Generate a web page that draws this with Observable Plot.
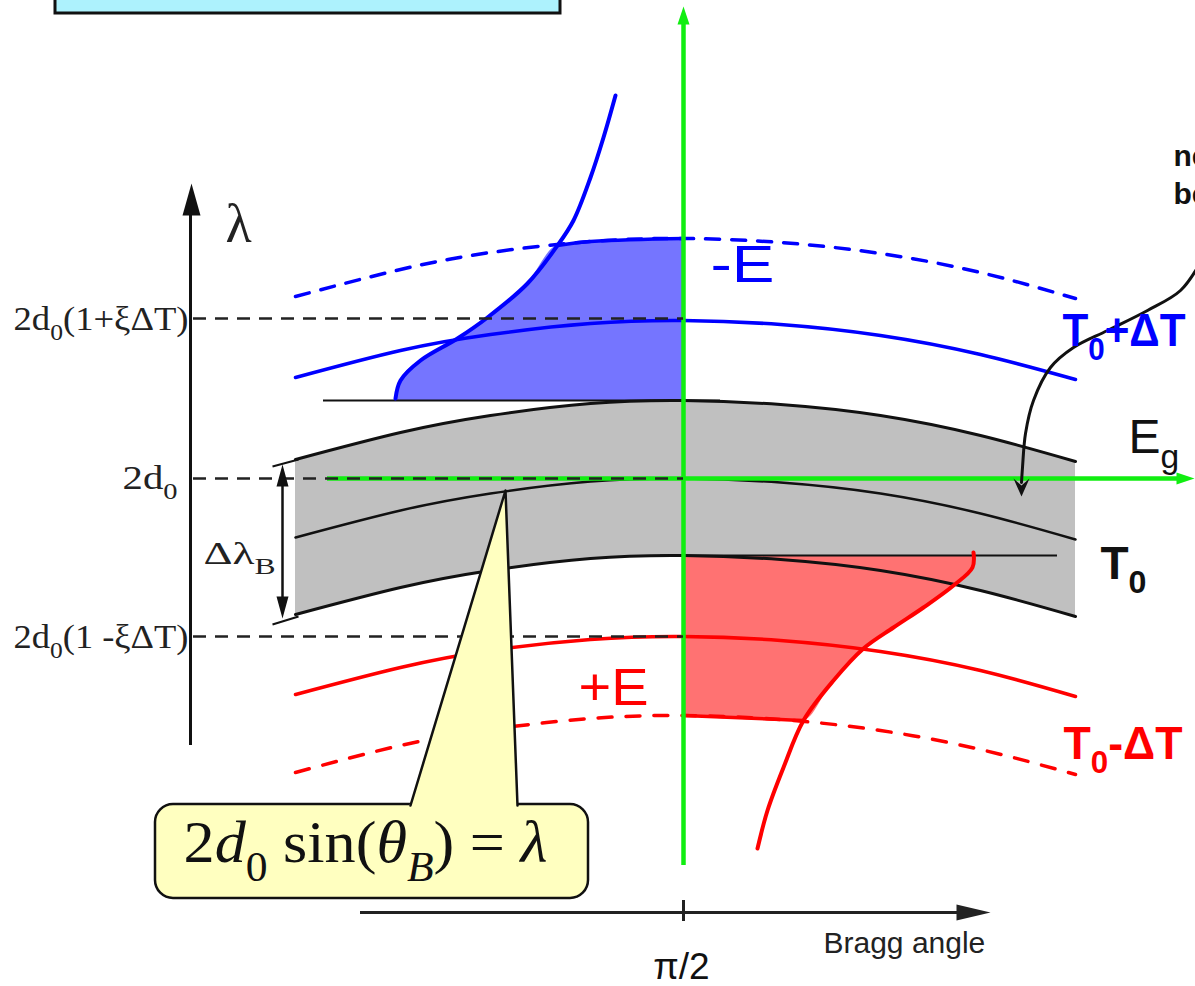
<!DOCTYPE html>
<html><head><meta charset="utf-8">
<script src="https://cdn.jsdelivr.net/npm/d3@7"></script>
<script src="https://cdn.jsdelivr.net/npm/@observablehq/plot@0.6"></script>
<style>html,body{margin:0;padding:0;background:#fff;overflow:hidden}</style>
</head><body><div id="chart"></div>
<script>
// Diagram units: x = Bragg angle (π/2 at 683), y = wavelength position (0 at top)
const arcX       = [295, 400, 490, 590, 683, 780, 880, 980, 1075];
const grayTop    = [459, 432, 415, 403, 400, 404, 415, 435, 461];
const grayMid    = [537, 510, 493, 481, 478, 482, 493, 513, 539];
const grayBot    = [614, 587, 570, 558, 555, 559, 570, 590, 616];
const blueSolid  = [377, 350, 334, 323, 320, 324, 335, 354, 379];
const blueDashed = [296, 269, 252, 241, 238, 242, 253, 272, 298];
const redSolid   = [694, 667, 650, 639, 636, 640, 651, 670, 696];
const redDashed  = [772, 745, 729, 718, 715, 719, 730, 749, 774];

const blueTailX = [615, 603, 590, 573, 557, 527, 487, 457, 420, 400, 395];
const blueTailY = [ 95, 137, 177, 220, 245, 283, 317, 338, 360, 380, 398];
const redTailX  = [973, 972, 953, 923, 893, 863, 833, 803, 783, 767, 757];
const redTailY  = [552, 567, 585, 607, 627, 648, 680, 720, 767, 810, 848];

const pointerX = [1200, 1180, 1147, 1107, 1073, 1050, 1033, 1025, 1022, 1021];
const pointerY = [ 262,  290,  310,  330,  347,  367,  400,  433,  467,  482];

const levelY = [318, 478, 636];
const levelLabels = ["2d_{0}(1+ξΔT)", "2d_{0}", "2d_{0}(1 -ξΔT)"];
const upperFlat = 400, lowerFlat = 555;
const braggTick = 683;
const tickLabel = "π/2";
const formula = "2*d*_{0} sin(*θ*_{*B*}) = *λ*";

// ---------- build tables ----------
const rows = (ys) => arcX.map((x, i) => ({x, y: ys[i]}));
const band = arcX.map((x, i) => ({x, top: grayTop[i], bot: grayBot[i]}));
const blueTail = blueTailX.map((x, i) => ({x, y: blueTailY[i]}));
const redTail = redTailX.map((x, i) => ({x, y: redTailY[i]}));
const blueFillTop = [
  ...blueTail.filter(d => d.x <= 557).sort((a, b) => a.x - b.x),
  ...rows(blueDashed).filter(d => d.x > 557 && d.x <= braggTick)
];
const redFillBot = [
  ...rows(redDashed).filter(d => d.x >= braggTick && d.x < 803),
  ...redTail.filter(d => d.y <= 720).sort((a, b) => a.x - b.x)
];
const pointer = pointerX.map((x, i) => ({x, y: pointerY[i]}));

// arrowhead symbols
function head(dir, len, hw, notch = 0) {
  const rot = {up: 0, right: 90, down: 180, left: 270}[dir] * Math.PI / 180;
  const c = Math.cos(rot), s = Math.sin(rot);
  return {draw(ctx) {
    [[0, 0], [hw, len], [0, len - notch], [-hw, len]].forEach(([px, py], i) => {
      const X = px * c - py * s, Y = px * s + py * c;
      i ? ctx.lineTo(X, Y) : ctx.moveTo(X, Y);
    });
    ctx.closePath();
  }};
}
const headMark = (x, y, dir, len, hw, color, notch = 0) =>
  Plot.dot([{x, y}], {x: "x", y: "y", symbol: head(dir, len, hw, notch), fill: color, stroke: "none"});

const serif = "Liberation Serif, Times New Roman, serif";
const sans = "Liberation Sans, Arial, sans-serif";
const fitWidth = new Map();
const lbl = (text, x, y, o, fit) => {
  if (fit) fitWidth.set(text, fit);
  return Plot.text([{text, x, y}], {x: "x", y: "y", text: "text", lineAnchor: "bottom", ...o});
};

const BLUE = "#0000ff", RED = "#ff0000", GREEN = "#11ee11", INK = "#111";
const levelFit = [175, 55, 175];

const svg = Plot.plot({
  width: 1195, height: 986, margin: 0,
  x: {domain: [0, 1195], axis: null},
  y: {domain: [0, 986], reverse: true, axis: null},
  style: {background: "white"},
  marks: [
    // top-left box (cut off)
    Plot.rect([{x1: 55, x2: 560, y1: -20, y2: 13}], {x1: "x1", x2: "x2", y1: "y1", y2: "y2", fill: "#adf2fd", stroke: "#111", strokeWidth: 3}),
    // gray band
    Plot.areaY(band, {x: "x", y1: "bot", y2: "top", curve: "natural", fill: "#c0c0c0"}),
    // fills
    Plot.areaY(blueFillTop, {x: "x", y1: upperFlat, y2: "y", curve: "monotone-x", fill: "#7575ff"}),
    Plot.areaY(redFillBot, {x: "x", y1: lowerFlat, y2: "y", curve: "monotone-x", fill: "#ff7272"}),
    // flat lines
    Plot.ruleY([upperFlat], {x1: 323, x2: 720, stroke: INK, strokeWidth: 2}),
    Plot.ruleY([lowerFlat], {x1: 660, x2: 1057, stroke: INK, strokeWidth: 2}),
    // band outlines
    Plot.line(rows(grayTop), {x: "x", y: "y", curve: "natural", stroke: INK, strokeWidth: 3}),
    Plot.line(rows(grayMid), {x: "x", y: "y", curve: "natural", stroke: INK, strokeWidth: 2.5}),
    Plot.line(rows(grayBot), {x: "x", y: "y", curve: "natural", stroke: INK, strokeWidth: 3}),
    // blue curves
    Plot.line(rows(blueDashed), {x: "x", y: "y", curve: "natural", stroke: BLUE, strokeWidth: 3.5, strokeDasharray: "14,12"}),
    Plot.line(blueFillTop.filter(d => d.x >= 557), {x: "x", y: "y", curve: "monotone-x", stroke: BLUE, strokeWidth: 3.5}),
    Plot.line(rows(blueSolid), {x: "x", y: "y", curve: "natural", stroke: BLUE, strokeWidth: 3.5}),
    Plot.line(blueTail, {x: "x", y: "y", curve: "catmull-rom", stroke: BLUE, strokeWidth: 4}),
    // red curves
    Plot.line(rows(redDashed), {x: "x", y: "y", curve: "natural", stroke: RED, strokeWidth: 3.5, strokeDasharray: "14,14"}),
    Plot.line(redFillBot.filter(d => d.x <= 803), {x: "x", y: "y", curve: "monotone-x", stroke: RED, strokeWidth: 3.5}),
    Plot.line(rows(redSolid), {x: "x", y: "y", curve: "natural", stroke: RED, strokeWidth: 3.5}),
    Plot.line(redTail, {x: "x", y: "y", curve: "catmull-rom", stroke: RED, strokeWidth: 4}),
    // green axes
    Plot.ruleX([braggTick], {y1: 18, y2: 865, stroke: GREEN, strokeWidth: 4.5}),
    headMark(braggTick, 6, "up", 18, 6, GREEN),
    Plot.ruleY([levelY[1]], {x1: 327, x2: 1180, stroke: GREEN, strokeWidth: 4.5}),
    headMark(1194, levelY[1], "right", 18, 6, GREEN),
    // dashed reference levels
    Plot.ruleY(levelY, {x1: 193, x2: braggTick, stroke: "#222", strokeWidth: 2.5, strokeDasharray: "13,9"}),
    // lambda axis
    Plot.ruleX([190], {y1: 745, y2: 205, stroke: INK, strokeWidth: 3}),
    headMark(191, 183, "up", 32, 9, INK),
    // delta-lambda arrow
    Plot.ruleX([282], {y1: 475, y2: 605, stroke: INK, strokeWidth: 2.5}),
    headMark(282, 464, "up", 22, 6, INK),
    headMark(282, 618, "down", 22, 6, INK),
    Plot.link([{x1: 272, y1: 466, x2: 298, y2: 459}, {x1: 272, y1: 624, x2: 298, y2: 616}],
      {x1: "x1", y1: "y1", x2: "x2", y2: "y2", stroke: INK, strokeWidth: 2}),
    // Bragg angle axis
    Plot.ruleY([912], {x1: 360, x2: 965, stroke: "#222", strokeWidth: 3}),
    Plot.ruleX([braggTick], {y1: 900, y2: 921, stroke: "#222", strokeWidth: 3}),
    headMark(990, 912, "right", 34, 8, "#222"),
    // callout
    Plot.rect([{x1: 155, x2: 588, y1: 804, y2: 898}], {x1: "x1", x2: "x2", y1: "y1", y2: "y2", rx: 18, fill: "#ffffc0", stroke: INK, strokeWidth: 2.5}),
    Plot.areaX([{y: 490, a: 505, b: 505}, {y: 807, a: 409, b: 518}], {y: "y", x1: "a", x2: "b", fill: "#ffffc0"}),
    Plot.line([{x: 410, y: 805}, {x: 505, y: 490}, {x: 517, y: 805}], {x: "x", y: "y", stroke: INK, strokeWidth: 2.5}),
    // curved pointer arrow
    Plot.line(pointer, {x: "x", y: "y", curve: "catmull-rom", stroke: INK, strokeWidth: 3}),
    headMark(1021, 496, "down", 18, 8, INK, 7),
    // texts
    ...levelY.map((y, i) => lbl(levelLabels[i], i === 1 ? 177 : 188, y + (i === 1 ? 10 : 11),
      {textAnchor: "end", fontFamily: serif, fontSize: 34, fill: "#222"}, levelFit[i])),
    lbl("Δλ_{B}", 203, 563, {textAnchor: "start", fontFamily: serif, fontSize: 32, fill: "#222"}, 72),
    lbl("λ", 238, 241, {textAnchor: "middle", fontFamily: serif, fontSize: 54, fill: "#222"}),
    lbl(formula, 365, 861, {textAnchor: "middle", fontFamily: serif, fontSize: 60, fill: "#111"}, 364),
    lbl(tickLabel, 681, 978, {textAnchor: "middle", fontFamily: sans, fontSize: 37, fill: "#111"}),
    lbl("Bragg angle", 823, 952, {textAnchor: "start", fontFamily: sans, fontSize: 30, fill: "#222"}),
    lbl("-E", 742, 281, {textAnchor: "middle", fontFamily: sans, fontSize: 52, fill: BLUE}, 64),
    lbl("+E", 613, 704, {textAnchor: "middle", fontFamily: sans, fontSize: 52, fill: RED}, 70),
    lbl("T_{0}+ΔT", 1062, 345, {textAnchor: "start", fontFamily: sans, fontSize: 46, fontWeight: "bold", fill: BLUE}, 123),
    lbl("T_{0}-ΔT", 1063, 758, {textAnchor: "start", fontFamily: sans, fontSize: 46, fontWeight: "bold", fill: RED}, 119),
    lbl("T_{0}", 1100, 578, {textAnchor: "start", fontFamily: sans, fontSize: 46, fontWeight: "bold", fill: INK}),
    lbl("E_{g}", 1128, 452, {textAnchor: "start", fontFamily: sans, fontSize: 48, fill: INK}),
    lbl("ne", 1173, 165, {textAnchor: "start", fontFamily: sans, fontSize: 30, fontWeight: "bold", fill: INK}),
    lbl("be", 1173, 203, {textAnchor: "start", fontFamily: sans, fontSize: 30, fontWeight: "bold", fill: INK})
  ]
});
document.getElementById("chart").appendChild(svg);

// ---------- rich text: *italic*, _{sub}; optional fitted width ----------
function parseRich(s) {
  const segs = []; let italic = false, sub = 0, buf = "";
  const push = () => { if (buf) { segs.push({t: buf, italic, sub}); buf = ""; } };
  for (let i = 0; i < s.length; i++) {
    const c = s[i];
    if (c === "*") { push(); italic = !italic; }
    else if (c === "_" && s[i + 1] === "{") { push(); sub = 1; i++; }
    else if (c === "}" && sub) { push(); sub = 0; }
    else buf += c;
  }
  push(); return segs;
}
svg.querySelectorAll("text").forEach(el => {
  const s = el.textContent;
  const fit = fitWidth.get(s);
  if (/[*]|_\{/.test(s)) {
    const fs = parseFloat(getComputedStyle(el).fontSize);
    const segs = parseRich(s);
    el.textContent = "";
    el.style.whiteSpace = "pre";
    let shift = 0;
    for (const g of segs) {
      const t = document.createElementNS("http://www.w3.org/2000/svg", "tspan");
      const target = g.sub ? fs * 0.32 : 0;
      if (target !== shift) { t.setAttribute("dy", target - shift); shift = target; }
      if (g.sub) t.setAttribute("font-size", fs * 0.7);
      if (g.italic) t.setAttribute("font-style", "italic");
      t.textContent = g.t;
      el.appendChild(t);
    }
  }
  if (fit) {
    el.setAttribute("textLength", fit);
    el.setAttribute("lengthAdjust", "spacingAndGlyphs");
  }
});
</script>
</body></html>
